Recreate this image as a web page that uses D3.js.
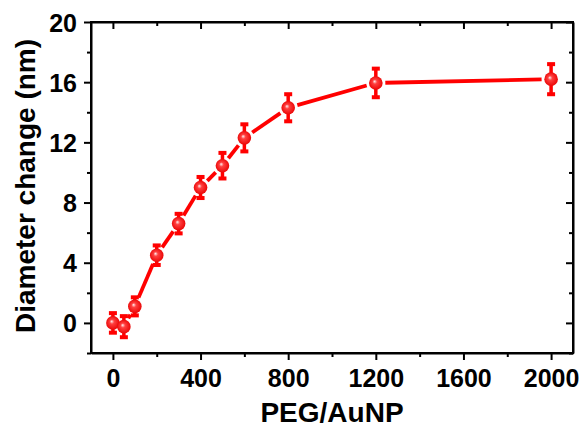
<!DOCTYPE html>
<html lang="en">
<head>
  <meta charset="UTF-8">
  <title>Diameter change vs PEG/AuNP</title>
  <script src="https://d3js.org/d3.v7.min.js"></script>
  <style>
    body { margin: 0; background: #fff; font-family: "Liberation Sans", Arial, sans-serif; }
    .tick text { font-weight: bold; font-size: 25px; }
    .axis-title { font-weight: bold; font-size: 28px; }
  </style>
</head>
<body>
  <svg id="chart" width="584" height="429"></svg>
  <script>
    // data
    const ratio = [0, 50, 100, 200, 300, 400, 500, 600, 800, 1200, 2000];
    const change = [0.0, -0.25, 1.1, 4.5, 6.6, 9.0, 10.45, 12.3, 14.3, 15.95, 16.2];
    const errs = [0.65, 0.7, 0.6, 0.65, 0.65, 0.7, 0.85, 0.9, 0.9, 0.95, 1.0];
    const xTicks = [0, 400, 800, 1200, 1600, 2000];
    const yTicks = [0, 4, 8, 12, 16, 20];

    const svg = d3.select("#chart");
    const mLeft = 91, mRight = 573, mTop = 22, mBottom = 353;
    const red = "#ff0000";

    const x = d3.scaleLinear().domain([-100, 2100]).range([mLeft, mRight]);
    const y = d3.scaleLinear().domain([-2, 20]).range([mBottom, mTop]);

    // gradient for the balls
    const defs = svg.append("defs");
    const grad = defs.append("radialGradient").attr("id", "ball")
      .attr("cx", "50%").attr("cy", "50%").attr("r", "55%")
      .attr("fx", "40%").attr("fy", "38%");
    grad.append("stop").attr("offset", "0%").attr("stop-color", "#fff0f0");
    grad.append("stop").attr("offset", "30%").attr("stop-color", "#ff4040");
    grad.append("stop").attr("offset", "100%").attr("stop-color", "#e80000");

    // axes
    function styleAxis(g) {
      g.selectAll("path").attr("stroke", "#000").attr("stroke-width", 2);
      g.selectAll("line").attr("stroke", "#000").attr("stroke-width", 2);
    }
    const fmt = d3.format("d");
    const minorX = d3.range(0, 2001, 200).filter(v => !xTicks.includes(v));
    const minorY = d3.range(-2, 20, 2).filter(v => !yTicks.includes(v));

    // bottom
    svg.append("g").attr("transform", `translate(0,${mBottom})`)
      .call(d3.axisBottom(x).tickValues(xTicks).tickFormat(fmt).tickSize(7).tickPadding(9).tickSizeOuter(0))
      .call(styleAxis)
      .call(g => g.selectAll("text").attr("fill", "#000"));
    svg.append("g").attr("transform", `translate(0,${mBottom})`)
      .call(d3.axisBottom(x).tickValues(minorX).tickSize(4).tickFormat("").tickSizeOuter(0))
      .call(styleAxis).call(g => g.select("path").remove());
    // left
    svg.append("g").attr("transform", `translate(${mLeft},0)`)
      .call(d3.axisLeft(y).tickValues(yTicks).tickFormat(fmt).tickSize(7).tickPadding(7).tickSizeOuter(0))
      .call(styleAxis)
      .call(g => g.selectAll("text").attr("fill", "#000").attr("dy", "0.36em"));
    svg.append("g").attr("transform", `translate(${mLeft},0)`)
      .call(d3.axisLeft(y).tickValues(minorY).tickSize(4).tickFormat("").tickSizeOuter(0))
      .call(styleAxis).call(g => g.select("path").remove());
    // top (ticks inward)
    svg.append("g").attr("transform", `translate(0,${mTop})`)
      .call(d3.axisBottom(x).tickValues(xTicks).tickSize(7).tickFormat("").tickSizeOuter(0))
      .call(styleAxis);
    svg.append("g").attr("transform", `translate(0,${mTop})`)
      .call(d3.axisBottom(x).tickValues(minorX).tickSize(4).tickFormat("").tickSizeOuter(0))
      .call(styleAxis).call(g => g.select("path").remove());
    // right (ticks inward)
    svg.append("g").attr("transform", `translate(${mRight},0)`)
      .call(d3.axisLeft(y).tickValues(yTicks).tickSize(7).tickFormat("").tickSizeOuter(0))
      .call(styleAxis);
    svg.append("g").attr("transform", `translate(${mRight},0)`)
      .call(d3.axisLeft(y).tickValues(minorY).tickSize(4).tickFormat("").tickSizeOuter(0))
      .call(styleAxis).call(g => g.select("path").remove());

    // frame
    svg.append("rect").attr("x", mLeft).attr("y", mTop)
      .attr("width", mRight - mLeft).attr("height", mBottom - mTop)
      .attr("fill", "none").attr("stroke", "#000").attr("stroke-width", 2);

    const pts = ratio.map((r, i) => ({ px: x(r), py: y(change[i]), e: errs[i], v: change[i] }));

    // connecting line, broken around the markers
    const gap = 9.5;
    for (let i = 0; i < pts.length - 1; i++) {
      const a = pts[i], b = pts[i + 1];
      const dx = b.px - a.px, dy = b.py - a.py;
      const len = Math.hypot(dx, dy);
      if (len <= 2 * gap) continue;
      const ux = dx / len, uy = dy / len;
      svg.append("line")
        .attr("x1", a.px + ux * gap).attr("y1", a.py + uy * gap)
        .attr("x2", b.px - ux * gap).attr("y2", b.py - uy * gap)
        .attr("stroke", red).attr("stroke-width", 3.8);
    }

    // error bars
    const eb = svg.append("g");
    pts.forEach(p => {
      const y1 = y(p.v + p.e), y2 = y(p.v - p.e);
      eb.append("line").attr("x1", p.px).attr("x2", p.px).attr("y1", y1).attr("y2", y2)
        .attr("stroke", red).attr("stroke-width", 3.5);
      [y1, y2].forEach(yy => eb.append("rect")
        .attr("x", p.px - 4).attr("y", yy - 2).attr("width", 8).attr("height", 4)
        .attr("fill", red));
    });

    // markers
    svg.append("g").selectAll("circle").data(pts).join("circle")
      .attr("cx", d => d.px).attr("cy", d => d.py).attr("r", 6.8)
      .attr("fill", "url(#ball)");

    // axis titles
    svg.append("text").attr("class", "axis-title")
      .attr("x", 332).attr("y", 422).attr("text-anchor", "middle")
      .text("PEG/AuNP");
    svg.append("text").attr("class", "axis-title")
      .attr("transform", `translate(35,186) rotate(-90)`)
      .attr("text-anchor", "middle")
      .text("Diameter change (nm)");
  </script>
</body>
</html>
